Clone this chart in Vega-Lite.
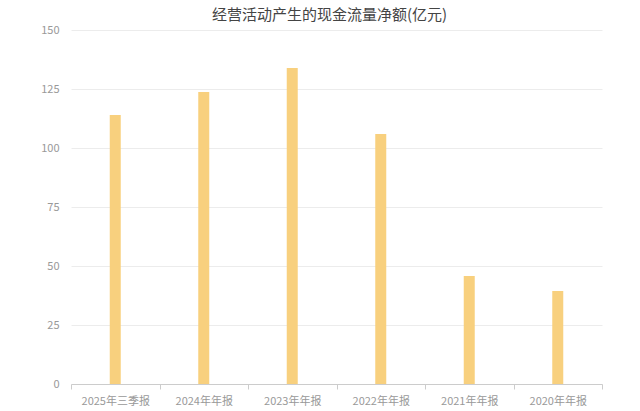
{
  "$schema": "https://vega.github.io/schema/vega-lite/v6.json",
  "width": 531,
  "height": 354,
  "autosize": {"type": "none"},
  "padding": {"left": 71, "top": 30, "right": 38, "bottom": 27},
  "background": "white",
  "title": {
    "text": "经营活动产生的现金流量净额(亿元)",
    "font": "Noto Sans CJK SC",
    "fontSize": 15,
    "fontWeight": "normal",
    "color": "#444",
    "anchor": "middle",
    "offset": 1,
    "dx": -7
  },
  "data": {
    "values": [
      {"period": "2025年三季报", "value": 114.0},
      {"period": "2024年年报", "value": 123.7},
      {"period": "2023年年报", "value": 133.9},
      {"period": "2022年年报", "value": 105.9},
      {"period": "2021年年报", "value": 45.8},
      {"period": "2020年年报", "value": 39.4}
    ]
  },
  "config": {
    "view": {"stroke": null},
    "font": "Noto Sans CJK SC"
  },
  "mark": {"type": "bar", "color": "#F8D07E", "width": 11},
  "encoding": {
    "x": {
      "field": "period",
      "type": "nominal",
      "sort": null,
      "title": null,
      "scale": {"paddingInner": 0, "paddingOuter": 0},
      "axis": {
        "labelAngle": 0,
        "labelColor": "#999",
        "labelFontSize": 11,
        "labelPadding": 6,
        "domainColor": "#ccc",
        "tickColor": "#ccc",
        "tickSize": 5,
        "tickBand": "extent",
        "grid": false
      }
    },
    "y": {
      "field": "value",
      "type": "quantitative",
      "title": null,
      "scale": {"domain": [0, 150], "nice": false},
      "axis": {
        "values": [0, 25, 50, 75, 100, 125, 150],
        "labelColor": "#999",
        "labelFontSize": 11,
        "labelPadding": 12,
        "domain": false,
        "ticks": false,
        "gridColor": "#ececec"
      }
    }
  }
}
